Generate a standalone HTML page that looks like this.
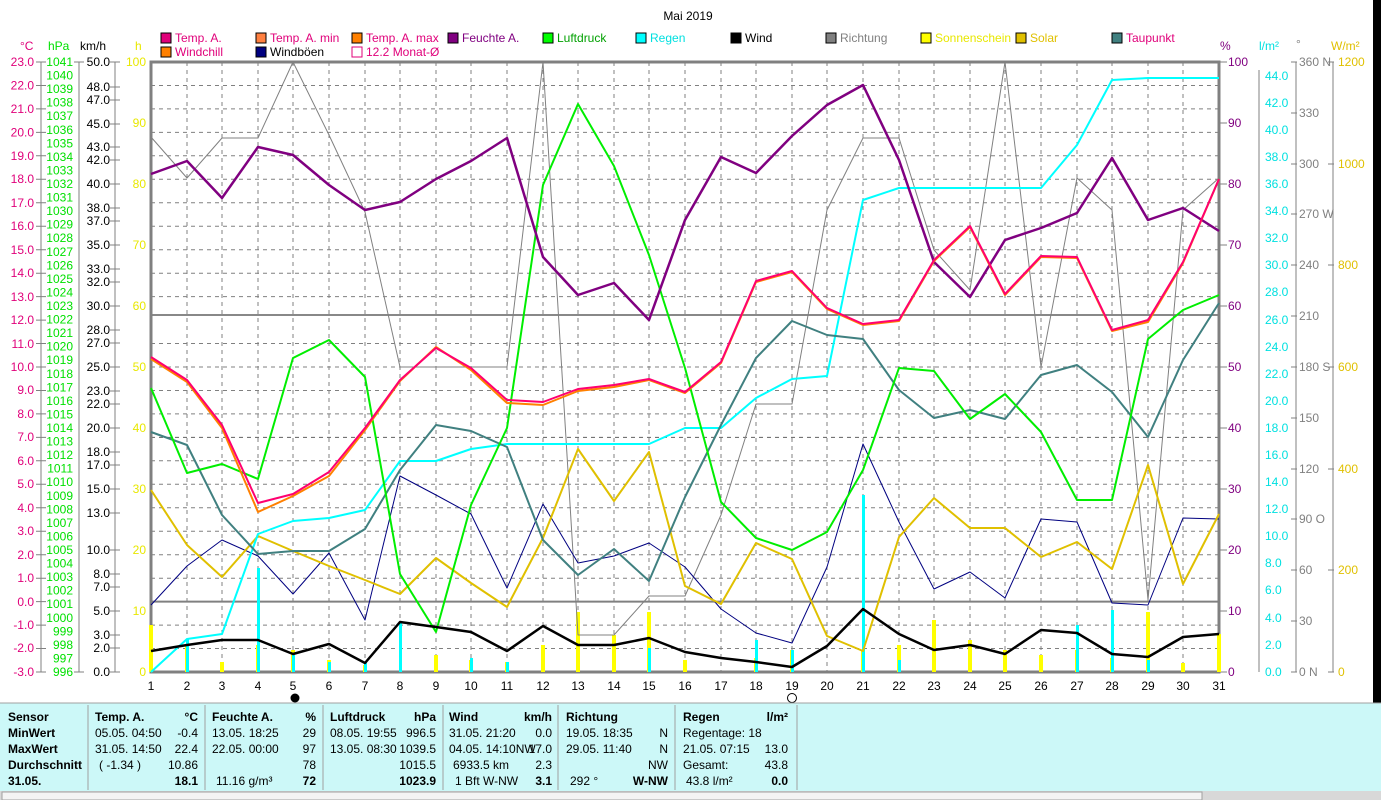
<!DOCTYPE html>
<html><head><meta charset="utf-8"><style>
body{margin:0;background:#fff;width:1381px;height:800px;overflow:hidden;font-family:"Liberation Sans",sans-serif}
svg{position:absolute;left:0;top:0}
.t{font-family:"Liberation Sans",sans-serif;font-size:12px}
</style></head><body>
<svg width="1381" height="800" xmlns="http://www.w3.org/2000/svg">
<rect x="1373" y="0" width="8" height="703" fill="#000"/>
<text x="688" y="20" class="t" font-size="14" text-anchor="middle" fill="#000">Mai 2019</text>
<!-- legend -->
<g class="t" font-size="12">
<rect x="161" y="33" width="10" height="10" fill="#e0007a" stroke="#000"/><text x="175" y="42" fill="#e0007a">Temp. A.</text>
<rect x="256" y="33" width="10" height="10" fill="#ff8040" stroke="#000"/><text x="270" y="42" fill="#e0007a">Temp. A. min</text>
<rect x="352" y="33" width="10" height="10" fill="#ff8000" stroke="#000"/><text x="366" y="42" fill="#e0007a">Temp. A. max</text>
<rect x="448" y="33" width="10" height="10" fill="#800080" stroke="#000"/><text x="462" y="42" fill="#800080">Feuchte A.</text>
<rect x="543" y="33" width="10" height="10" fill="#00ff00" stroke="#000"/><text x="557" y="42" fill="#00a000">Luftdruck</text>
<rect x="636" y="33" width="10" height="10" fill="#00ffff" stroke="#000"/><text x="650" y="42" fill="#00e0e0">Regen</text>
<rect x="731" y="33" width="10" height="10" fill="#000" stroke="#000"/><text x="745" y="42" fill="#000">Wind</text>
<rect x="826" y="33" width="10" height="10" fill="#808080" stroke="#000"/><text x="840" y="42" fill="#808080">Richtung</text>
<rect x="921" y="33" width="10" height="10" fill="#ffff00" stroke="#000"/><text x="935" y="42" fill="#e8e800">Sonnenschein</text>
<rect x="1016" y="33" width="10" height="10" fill="#e0c000" stroke="#000"/><text x="1030" y="42" fill="#e0c000">Solar</text>
<rect x="1112" y="33" width="10" height="10" fill="#408080" stroke="#000"/><text x="1126" y="42" fill="#e0007a">Taupunkt</text>
<rect x="161" y="47" width="10" height="10" fill="#ff8000" stroke="#000"/><text x="175" y="56" fill="#e0007a">Windchill</text>
<rect x="256" y="47" width="10" height="10" fill="#000080" stroke="#000"/><text x="270" y="56" fill="#000">Windböen</text>
<rect x="352" y="47" width="10" height="10" fill="#fff" stroke="#e0007a"/><text x="366" y="56" fill="#e0007a">12.2 Monat-Ø</text>
</g>
<!-- axis headers -->
<g class="t">
<text x="20" y="50" fill="#e0007a">°C</text><text x="48" y="50" fill="#00e000">hPa</text><text x="80" y="50" fill="#000">km/h</text><text x="135" y="50" fill="#e8e800">h</text>
<text x="1220" y="50" fill="#800080">%</text><text x="1259" y="50" fill="#00e0e0">l/m²</text><text x="1296" y="48" fill="#808080">°</text><text x="1331" y="50" fill="#e0c000">W/m²</text>
</g>
<!-- grid -->
<path d="M151 85.5H1219M151 108.9H1219M151 132.4H1219M151 155.8H1219M151 179.3H1219M151 202.8H1219M151 226.2H1219M151 249.7H1219M151 273.2H1219M151 296.6H1219M151 343.5H1219M151 367H1219M151 390.5H1219M151 413.9H1219M151 460.8H1219M151 484.3H1219M151 507.8H1219M151 531.2H1219M151 554.7H1219M151 578.2H1219M151 625.1H1219M151 648.5H1219
M187 62V672M222 62V672M258 62V672M293 62V672M329 62V672M365 62V672M400 62V672M436 62V672M471 62V672M507 62V672M543 62V672M578 62V672M614 62V672M649 62V672M685 62V672M721 62V672M756 62V672M792 62V672M827 62V672M863 62V672M899 62V672M934 62V672M970 62V672M1005 62V672M1041 62V672M1077 62V672M1112 62V672M1148 62V672M1183 62V672" stroke="#808080" stroke-dasharray="4,4" fill="none"/>
<line x1="151" y1="437.4" x2="1219" y2="437.4" stroke="#606060" stroke-dasharray="4,4"/>
<line x1="151" y1="315" x2="1219" y2="315" stroke="#606060" stroke-width="1.5"/>
<line x1="151" y1="601.6" x2="1219" y2="601.6" stroke="#808080" stroke-width="2"/>
<rect x="151" y="62" width="1068" height="610" fill="none" stroke="#808080" stroke-width="3"/>
<!-- left axis lines -->
<g stroke="#808080" fill="none">
<line x1="41" y1="62" x2="41" y2="672"/><line x1="79" y1="62" x2="79" y2="672"/><line x1="115" y1="62" x2="115" y2="672"/>
<line x1="1259" y1="70" x2="1259" y2="672"/><line x1="1296" y1="62" x2="1296" y2="672"/><line x1="1333" y1="62" x2="1333" y2="672"/>
<path d="M36 62h10M36 85.5h10M36 108.9h10M36 132.4h10M36 155.8h10M36 179.3h10M36 202.8h10M36 226.2h10M36 249.7h10M36 273.2h10M36 296.6h10M36 320.1h10M36 343.5h10M36 367h10M36 390.5h10M36 413.9h10M36 437.4h10M36 460.8h10M36 484.3h10M36 507.8h10M36 531.2h10M36 554.7h10M36 578.2h10M36 601.6h10M36 625.1h10M36 648.5h10M36 672h10"/>
<path d="M1219 62h8M1219 123h8M1219 184h8M1219 245h8M1219 306h8M1219 367h8M1219 428h8M1219 489h8M1219 550h8M1219 611h8M1219 672h8"/>
<path d="M1291 62h6M1291 113h6M1291 164h6M1291 214h6M1291 265h6M1291 316h6M1291 367h6M1291 418h6M1291 469h6M1291 519h6M1291 570h6M1291 621h6M1291 672h6"/>
<path d="M1328 62h6M1328 164h6M1328 265h6M1328 367h6M1328 469h6M1328 570h6M1328 672h6"/>
</g>
<g class="t" text-anchor="end" fill="#e0007a">
<text x="34" y="66">23.0</text><text x="34" y="89.5">22.0</text><text x="34" y="113">21.0</text><text x="34" y="136.5">20.0</text><text x="34" y="160">19.0</text><text x="34" y="183">18.0</text><text x="34" y="207">17.0</text><text x="34" y="230">16.0</text><text x="34" y="254">15.0</text><text x="34" y="277">14.0</text><text x="34" y="301">13.0</text><text x="34" y="324">12.0</text><text x="34" y="348">11.0</text><text x="34" y="371">10.0</text><text x="34" y="394">9.0</text><text x="34" y="418">8.0</text><text x="34" y="441">7.0</text><text x="34" y="465">6.0</text><text x="34" y="488">5.0</text><text x="34" y="512">4.0</text><text x="34" y="535">3.0</text><text x="34" y="559">2.0</text><text x="34" y="582">1.0</text><text x="34" y="606">0.0</text><text x="34" y="629">-1.0</text><text x="34" y="652">-2.0</text><text x="34" y="676">-3.0</text>
</g>
<g class="t" text-anchor="end" fill="#00e000" font-size="11.5">
<text x="73" y="66">1041</text><text x="73" y="79.6">1040</text><text x="73" y="93.1">1039</text><text x="73" y="106.7">1038</text><text x="73" y="120.2">1037</text><text x="73" y="133.8">1036</text><text x="73" y="147.3">1035</text><text x="73" y="160.9">1034</text><text x="73" y="174.4">1033</text><text x="73" y="188">1032</text><text x="73" y="201.6">1031</text><text x="73" y="215.1">1030</text><text x="73" y="228.7">1029</text><text x="73" y="242.2">1028</text><text x="73" y="255.8">1027</text><text x="73" y="269.3">1026</text><text x="73" y="282.9">1025</text><text x="73" y="296.4">1024</text><text x="73" y="310">1023</text><text x="73" y="323.6">1022</text><text x="73" y="337.1">1021</text><text x="73" y="350.7">1020</text><text x="73" y="364.2">1019</text><text x="73" y="377.8">1018</text><text x="73" y="391.3">1017</text><text x="73" y="404.9">1016</text><text x="73" y="418.4">1015</text><text x="73" y="432">1014</text><text x="73" y="445.6">1013</text><text x="73" y="459.1">1012</text><text x="73" y="472.7">1011</text><text x="73" y="486.2">1010</text><text x="73" y="499.8">1009</text><text x="73" y="513.3">1008</text><text x="73" y="526.9">1007</text><text x="73" y="540.4">1006</text><text x="73" y="554">1005</text><text x="73" y="567.6">1004</text><text x="73" y="581.1">1003</text><text x="73" y="594.7">1002</text><text x="73" y="608.2">1001</text><text x="73" y="621.8">1000</text><text x="73" y="635.3">999</text><text x="73" y="648.9">998</text><text x="73" y="662.4">997</text><text x="73" y="676">996</text>
</g>
<g class="t" text-anchor="end" fill="#000">
<text x="110" y="66">50.0</text><text x="110" y="91">48.0</text><text x="110" y="104">47.0</text><text x="110" y="128">45.0</text><text x="110" y="151">43.0</text><text x="110" y="164">42.0</text><text x="110" y="188">40.0</text><text x="110" y="212">38.0</text><text x="110" y="225">37.0</text><text x="110" y="249">35.0</text><text x="110" y="273">33.0</text><text x="110" y="286">32.0</text><text x="110" y="310">30.0</text><text x="110" y="334">28.0</text><text x="110" y="347">27.0</text><text x="110" y="371">25.0</text><text x="110" y="395">23.0</text><text x="110" y="408">22.0</text><text x="110" y="432">20.0</text><text x="110" y="456">18.0</text><text x="110" y="469">17.0</text><text x="110" y="493">15.0</text><text x="110" y="517">13.0</text><text x="110" y="554">10.0</text><text x="110" y="578">8.0</text><text x="110" y="591">7.0</text><text x="110" y="615">5.0</text><text x="110" y="639">3.0</text><text x="110" y="652">2.0</text><text x="110" y="676">0.0</text>
</g>
<g stroke="#808080"><path d="M110 62h10M110 87h10M110 100h10M110 124h10M110 147h10M110 160h10M110 184h10M110 208h10M110 221h10M110 245h10M110 269h10M110 282h10M110 306h10M110 330h10M110 343h10M110 367h10M110 391h10M110 404h10M110 428h10M110 452h10M110 465h10M110 489h10M110 513h10M110 550h10M110 574h10M110 587h10M110 611h10M110 635h10M110 648h10M110 672h10M74 62h10M74 672h10"/></g>
<g class="t" text-anchor="end" fill="#e8e800">
<text x="146" y="66">100</text><text x="146" y="127">90</text><text x="146" y="188">80</text><text x="146" y="249">70</text><text x="146" y="310">60</text><text x="146" y="371">50</text><text x="146" y="432">40</text><text x="146" y="493">30</text><text x="146" y="554">20</text><text x="146" y="615">10</text><text x="146" y="676">0</text>
</g>
<g class="t" fill="#800080">
<text x="1228" y="66">100</text><text x="1228" y="127">90</text><text x="1228" y="188">80</text><text x="1228" y="249">70</text><text x="1228" y="310">60</text><text x="1228" y="371">50</text><text x="1228" y="432">40</text><text x="1228" y="493">30</text><text x="1228" y="554">20</text><text x="1228" y="615">10</text><text x="1228" y="676">0</text>
</g>
<g class="t" fill="#00e0e0">
<text x="1265" y="80">44.0</text><text x="1265" y="107">42.0</text><text x="1265" y="134">40.0</text><text x="1265" y="161">38.0</text><text x="1265" y="188">36.0</text><text x="1265" y="215">34.0</text><text x="1265" y="242">32.0</text><text x="1265" y="269">30.0</text><text x="1265" y="296">28.0</text><text x="1265" y="324">26.0</text><text x="1265" y="351">24.0</text><text x="1265" y="378">22.0</text><text x="1265" y="405">20.0</text><text x="1265" y="432">18.0</text><text x="1265" y="459">16.0</text><text x="1265" y="486">14.0</text><text x="1265" y="513">12.0</text><text x="1265" y="540">10.0</text><text x="1265" y="567">8.0</text><text x="1265" y="594">6.0</text><text x="1265" y="622">4.0</text><text x="1265" y="649">2.0</text><text x="1265" y="676">0.0</text>
</g>
<g class="t" fill="#808080">
<text x="1299" y="66">360 N</text><text x="1299" y="117">330</text><text x="1299" y="168">300</text><text x="1299" y="218">270 W</text><text x="1299" y="269">240</text><text x="1299" y="320">210</text><text x="1299" y="371">180 S</text><text x="1299" y="422">150</text><text x="1299" y="473">120</text><text x="1299" y="523">90  O</text><text x="1299" y="574">60</text><text x="1299" y="625">30</text><text x="1299" y="676">0   N</text>
</g>
<g class="t" fill="#e0c000">
<text x="1338" y="66">1200</text><text x="1338" y="168">1000</text><text x="1338" y="269">800</text><text x="1338" y="371">600</text><text x="1338" y="473">400</text><text x="1338" y="574">200</text><text x="1338" y="676">0</text>
</g>
<!-- bars -->
<g fill="#ffff00">
<rect x="149" y="625" width="4" height="47"/><rect x="185" y="645" width="4" height="27"/><rect x="220" y="662" width="4" height="10"/><rect x="256" y="645" width="4" height="27"/><rect x="291" y="650" width="4" height="22"/><rect x="327" y="660" width="4" height="12"/><rect x="363" y="665" width="4" height="7"/><rect x="434" y="655" width="4" height="17"/><rect x="469" y="660" width="4" height="12"/><rect x="505" y="662" width="4" height="10"/><rect x="541" y="645" width="4" height="27"/><rect x="576" y="612" width="4" height="60"/><rect x="612" y="635" width="4" height="37"/><rect x="647" y="612" width="4" height="60"/><rect x="683" y="660" width="4" height="12"/><rect x="754" y="658" width="4" height="14"/><rect x="790" y="650" width="4" height="22"/><rect x="861" y="650" width="4" height="22"/><rect x="897" y="645" width="4" height="27"/><rect x="932" y="620" width="4" height="52"/><rect x="968" y="640" width="4" height="32"/><rect x="1003" y="650" width="4" height="22"/><rect x="1039" y="655" width="4" height="17"/><rect x="1075" y="650" width="4" height="22"/><rect x="1110" y="658" width="4" height="14"/><rect x="1146" y="612" width="4" height="60"/><rect x="1181" y="663" width="4" height="9"/><rect x="1217" y="634" width="4" height="38"/>
</g>
<g fill="#00ffff">
<rect x="186" y="639" width="3" height="33"/><rect x="257" y="568" width="3" height="104"/><rect x="292" y="655" width="3" height="17"/><rect x="328" y="662" width="3" height="10"/><rect x="364" y="662" width="3" height="10"/><rect x="399" y="622" width="3" height="50"/><rect x="470" y="658" width="3" height="14"/><rect x="506" y="662" width="3" height="10"/><rect x="648" y="648" width="3" height="24"/><rect x="755" y="640" width="3" height="32"/><rect x="791" y="650" width="3" height="22"/><rect x="862" y="495" width="3" height="177"/><rect x="898" y="660" width="3" height="12"/><rect x="1076" y="625" width="3" height="47"/><rect x="1111" y="610" width="3" height="62"/><rect x="1147" y="660" width="3" height="12"/>
</g>
<!-- series -->
<g fill="none" stroke-linejoin="round">
<polyline stroke="#808080" stroke-width="1" points="151,137 187,178 222,138 258,138 293,62 329,135 365,212 400,367 436,367 471,367 507,367 543,62 578,635 614,635 649,596 685,596 721,515 756,404 792,404 827,210 863,138 899,138 934,250 970,290 1005,62 1041,367 1077,178 1112,210 1148,600 1183,210 1219,178"/>
<polyline stroke="#000080" stroke-width="1" points="151,605 187,566 222,540 258,556 293,594 329,553 365,620 400,476 436,495 471,514 507,588 543,504 578,563 614,556 649,543 685,567 721,609 756,633 792,643 827,567 863,444 899,522 934,589 970,572 1005,598 1041,519 1077,522 1112,603 1148,605 1183,518 1219,519"/>
<polyline stroke="#e0c000" stroke-width="2" points="151,490 187,545 222,577 258,536 293,551 329,566 365,580 400,594 436,558 471,583 507,607 543,538 578,449 614,501 649,452 685,586 721,604 756,543 792,559 827,636 863,651 899,537 934,498 970,528 1005,528 1041,557 1077,542 1112,569 1148,465 1183,584 1219,514"/>
<polyline stroke="#00ffff" stroke-width="2" points="151,672 187,639 222,634 258,534 293,521 329,518 365,510 400,461 436,461 471,449 507,444 543,444 578,444 614,444 649,444 685,428 721,428 756,398 792,379 827,376 863,200 899,188 934,188 970,188 1005,188 1041,188 1077,145 1112,80 1148,78 1183,78 1219,78"/>
<polyline stroke="#408080" stroke-width="2" points="151,432 187,445 222,515 258,554 293,551 329,551 365,529 400,470 436,425 471,431 507,447 543,540 578,575 614,549 649,581 685,497 721,425 756,358 792,321 827,335 863,339 899,390 934,418 970,410 1005,419 1041,375 1077,365 1112,392 1148,437 1183,360 1219,303"/>
<polyline stroke="#00ee00" stroke-width="2" points="151,388 187,473 222,464 258,479 293,358 329,340 365,377 400,574 436,632 471,505 507,428 543,185 578,104 614,166 649,255 685,368 721,502 756,538 792,550 827,532 863,470 899,368 934,371 970,419 1005,394 1041,432 1077,500 1112,500 1148,339 1183,310 1219,295"/>
<polyline stroke="#800080" stroke-width="2.5" points="151,174 187,161 222,198 258,147 293,155 329,185 365,210 400,202 436,179 471,161 507,138 543,257 578,295 614,283 649,320 685,220 721,157 756,173 792,136 827,105 863,85 899,160 934,262 970,297 1005,240 1041,228 1077,213 1112,158 1148,220 1183,208 1219,231"/>
<polyline stroke="#ff8000" stroke-width="2" points="151,359 187,382 222,428 258,512 293,496 329,476 365,430 400,381 436,347 471,370 507,403 543,405 578,391 614,387 649,380 685,393 721,363 756,282 792,272 827,309 863,325 899,321 934,261 970,227 1005,295 1041,257 1077,258 1112,331 1148,322 1183,263 1219,179"/>
<polyline stroke="#ff0070" stroke-width="2" points="151,357 187,380 222,425 258,503 293,494 329,472 365,428 400,380 436,348 471,368 507,400 543,402 578,389 614,385 649,379 685,392 721,362 756,281 792,271 827,308 863,324 899,320 934,260 970,226 1005,294 1041,256 1077,257 1112,330 1148,320 1183,262 1219,179"/>
<polyline stroke="#000" stroke-width="2.5" points="151,651 187,645 222,640 258,640 293,654 329,644 365,663 400,622 436,627 471,632 507,651 543,626 578,645 614,645 649,638 685,652 721,658 756,662 792,667 827,646 863,609 899,634 934,650 970,645 1005,654 1041,630 1077,633 1112,654 1148,657 1183,637 1219,634"/>
</g>
<!-- x labels -->
<g class="t" text-anchor="middle" fill="#000">
<text x="151" y="690">1</text><text x="187" y="690">2</text><text x="222" y="690">3</text><text x="258" y="690">4</text><text x="293" y="690">5</text><text x="329" y="690">6</text><text x="365" y="690">7</text><text x="400" y="690">8</text><text x="436" y="690">9</text><text x="471" y="690">10</text><text x="507" y="690">11</text><text x="543" y="690">12</text><text x="578" y="690">13</text><text x="614" y="690">14</text><text x="649" y="690">15</text><text x="685" y="690">16</text><text x="721" y="690">17</text><text x="756" y="690">18</text><text x="792" y="690">19</text><text x="827" y="690">20</text><text x="863" y="690">21</text><text x="899" y="690">22</text><text x="934" y="690">23</text><text x="970" y="690">24</text><text x="1005" y="690">25</text><text x="1041" y="690">26</text><text x="1077" y="690">27</text><text x="1112" y="690">28</text><text x="1148" y="690">29</text><text x="1183" y="690">30</text><text x="1219" y="690">31</text>
</g>
<circle cx="295" cy="698" r="4.5" fill="#000"/><circle cx="792" cy="698" r="4.5" fill="#fff" stroke="#000"/>
<!-- table -->
<rect x="0" y="703" width="1381" height="88" fill="#ccf8f8"/>
<rect x="0" y="791" width="1381" height="9" fill="#d8d8d8"/>
<rect x="2" y="792" width="1200" height="8" fill="#f4f4f4" stroke="#a0a0a0"/>
<g stroke="#a0a0a0"><path d="M88 705V790M205 705V790M323 705V790M443 705V790M558 705V790M675 705V790M797 705V790M0 703H1381"/></g>
<g class="t" font-size="11" fill="#000">
<g font-weight="bold"><text x="8" y="721">Sensor</text><text x="8" y="737">MinWert</text><text x="8" y="753">MaxWert</text><text x="8" y="769">Durchschnitt</text><text x="8" y="785">31.05.</text>
<text x="95" y="721">Temp. A.</text><text x="212" y="721">Feuchte A.</text><text x="330" y="721">Luftdruck</text><text x="449" y="721">Wind</text><text x="566" y="721">Richtung</text><text x="683" y="721">Regen</text></g>
<g text-anchor="end" font-weight="bold"><text x="198" y="721">°C</text><text x="316" y="721">%</text><text x="436" y="721">hPa</text><text x="552" y="721">km/h</text><text x="788" y="721">l/m²</text>
<text x="198" y="785">18.1</text><text x="316" y="785">72</text><text x="436" y="785">1023.9</text><text x="552" y="785">3.1</text><text x="668" y="785">W-NW</text><text x="788" y="785">0.0</text></g>
<text x="95" y="737">05.05.  04:50</text><text x="95" y="753">31.05.  14:50</text><text x="99" y="769">( -1.34 )</text>
<text x="212" y="737">13.05.  18:25</text><text x="212" y="753">22.05.  00:00</text><text x="216" y="785">11.16 g/m³</text>
<text x="330" y="737">08.05.  19:55</text><text x="330" y="753">13.05.  08:30</text>
<text x="449" y="737">31.05.  21:20</text><text x="449" y="753">04.05.  14:10NW</text><text x="453" y="769">6933.5 km</text><text x="455" y="785">1 Bft W-NW</text>
<text x="566" y="737">19.05.  18:35</text><text x="566" y="753">29.05.  11:40</text><text x="570" y="785">292 °</text>
<text x="683" y="737">Regentage: 18</text><text x="683" y="753">21.05.  07:15</text><text x="683" y="769">Gesamt:</text><text x="686" y="785">43.8 l/m²</text>
<g text-anchor="end"><text x="198" y="737">-0.4</text><text x="198" y="753">22.4</text><text x="198" y="769">10.86</text>
<text x="316" y="737">29</text><text x="316" y="753">97</text><text x="316" y="769">78</text>
<text x="436" y="737">996.5</text><text x="436" y="753">1039.5</text><text x="436" y="769">1015.5</text>
<text x="552" y="737">0.0</text><text x="552" y="753">17.0</text><text x="552" y="769">2.3</text>
<text x="668" y="737">N</text><text x="668" y="753">N</text><text x="668" y="769">NW</text>
<text x="788" y="753">13.0</text><text x="788" y="769">43.8</text></g>
</g>
</svg>
</body></html>
